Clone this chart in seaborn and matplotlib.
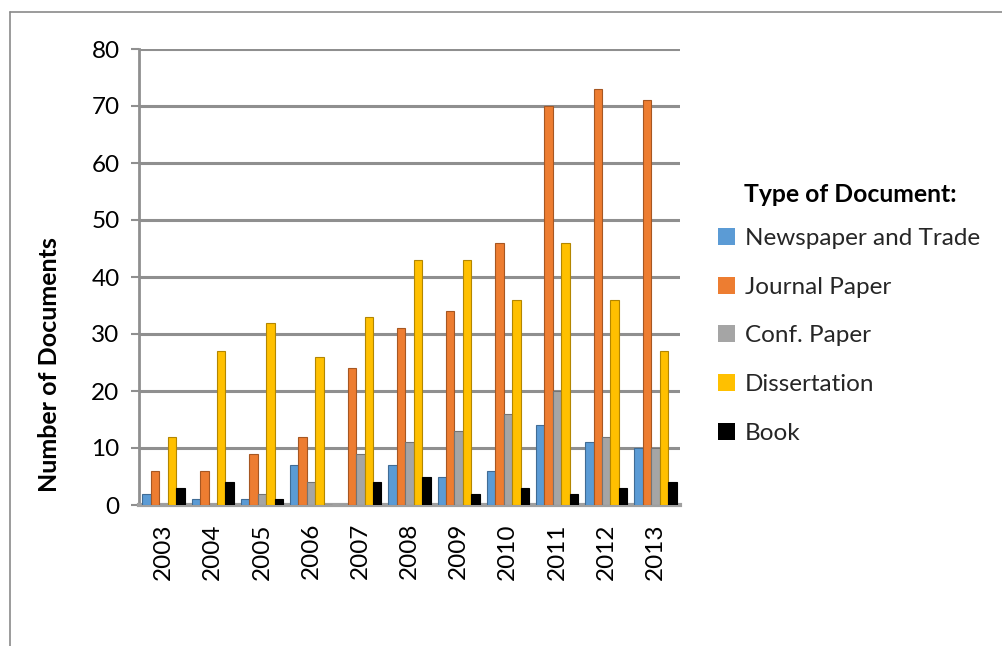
import numpy as np
import pandas as pd
import matplotlib
matplotlib.use("Agg")
import matplotlib.pyplot as plt
from matplotlib.lines import Line2D
from matplotlib.patches import Patch
import matplotlib.colors as mcolors
import seaborn as sns

# Document counts per year and type
years = ["2003", "2004", "2005", "2006", "2007", "2008", "2009", "2010", "2011", "2012", "2013"]
doc_types = ["Newspaper and Trade", "Journal Paper", "Conf. Paper", "Dissertation", "Book"]
newspaper = [2, 1, 1, 7, 0, 7, 5, 6, 14, 11, 10]
journal = [6, 6, 9, 12, 24, 31, 34, 46, 70, 73, 71]
conference = [0, 0, 2, 4, 9, 11, 13, 16, 20, 12, 10]
dissertation = [12, 27, 32, 26, 33, 43, 43, 36, 46, 36, 27]
book = [3, 4, 1, 0, 4, 5, 2, 3, 2, 3, 4]
y_ticks = [0, 10, 20, 30, 40, 50, 60, 70, 80]

colors = ["#5B9BD5", "#ED7D31", "#A5A5A5", "#FFC000", "#000000"]

series = [newspaper, journal, conference, dissertation, book]
df = pd.DataFrame(
    [(y, t, v[i]) for t, v in zip(doc_types, series) for i, y in enumerate(years)],
    columns=["Year", "Type", "Count"],
)

sns.set_theme(style="white")
plt.rcParams["font.family"] = ["Lato", "DejaVu Sans"]

W, H = 1002, 646
fig = plt.figure(figsize=(W / 100, H / 100), dpi=100)
fig.patch.set_facecolor("white")

def fx(px):
    return px / W

def fy(py):
    return 1 - py / H

ax = fig.add_axes([fx(139), fy(505), fx(680) - fx(139), fy(49) - fy(505)])

grid_c = "#8f8f8f"
for t in y_ticks:
    ax.axhline(t, color=grid_c, lw=2.2, zorder=0, solid_capstyle="butt")

sns.barplot(
    data=df, x="Year", y="Count", hue="Type", hue_order=doc_types,
    order=years, palette=colors, saturation=1, width=0.86,
    dodge=True, legend=False, ax=ax, zorder=3,
)

# darker edge on each bar to hint at the side faces
for container, c in zip(ax.containers, colors):
    dark = tuple(np.array(mcolors.to_rgb(c)) * 0.7)
    for p in container.patches:
        p.set_edgecolor(dark)
        p.set_linewidth(0.8)

ax.set_ylim(0, 80)
ax.set_xlim(-0.5, 10.5)
ax.set_yticks(y_ticks)
ax.set_yticklabels([str(t) for t in y_ticks], fontsize=17.5, color="black")
ax.set_xticks(range(len(years)))
ax.set_xticklabels(years, rotation=90, fontsize=17.5, color="black")
ax.set_xlabel("")
ax.set_ylabel("")

for s in ["top", "right"]:
    ax.spines[s].set_visible(False)
ax.spines["left"].set_color(grid_c)
ax.spines["left"].set_linewidth(2.0)
ax.spines["bottom"].set_color("#a0a0a0")
ax.spines["bottom"].set_linewidth(3.0)
ax.tick_params(axis="y", length=6, width=1.5, color=grid_c, pad=8, left=True)
ax.tick_params(axis="x", length=0, pad=13)

fig.text(fx(50), fy(365), "Number of Documents", rotation=90, ha="center", va="center",
         fontsize=18, fontweight="bold", color="black")

# legend
handles = [Patch(facecolor=c, edgecolor="none") for c in colors]
leg = fig.legend(
    handles, doc_types, loc="upper left", bbox_to_anchor=(fx(718), fy(228)),
    frameon=False, fontsize=17.5, handlelength=0.7, handleheight=0.7,
    handletextpad=0.4, labelspacing=1.14, borderaxespad=0, borderpad=0,
)
fig.text(fx(744), fy(195), "Type of Document:", ha="left", va="center",
         fontsize=17.8, fontweight="bold", color="black")

# outer frame
fig.add_artist(Line2D([fx(10), fx(10)], [0, fy(12)], color="#8a8a8a", lw=1.2))
fig.add_artist(Line2D([fx(10), 1], [fy(12), fy(12)], color="#8a8a8a", lw=1.2))

fig.savefig("out.png", dpi=100)
